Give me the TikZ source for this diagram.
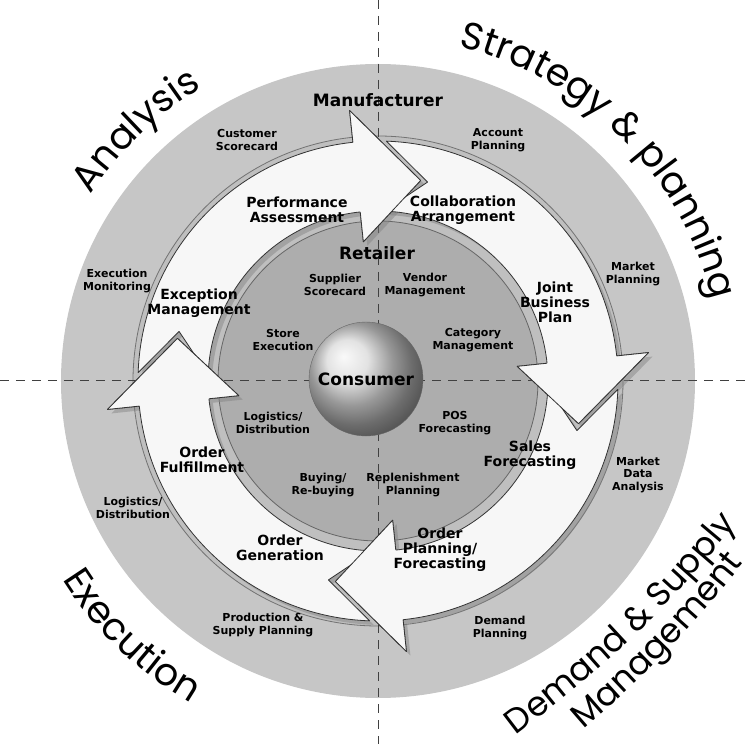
\documentclass[tikz,border=0pt]{standalone}
\usepackage{fontspec}
\setmainfont{DejaVu Sans}
\newfontfamily\cornerfont{Poppins}
\usepackage{tikz}
\usetikzlibrary{decorations.text,shadows}

% curved cycle arrow: tail angle, head base angle, tip angle
\newcommand{\cyclearrow}[3]{%
  \path[arrowbody] (#1:240pt) arc[start angle=#1, end angle=#2, radius=240pt]
    -- (#2:272pt) -- (#3:205pt) -- (#2:140pt) -- (#2:170pt)
    arc[start angle=#2, end angle=#1, radius=170pt] -- ({#1-12}:205pt) -- cycle;}
% head drawn again over the next tail
\newcommand{\cyclehead}[2]{%
  \fill[arrowfill] (#1:240pt) -- (#1:272pt) -- (#2:205pt) -- (#1:140pt) -- (#1:170pt) -- cycle;
  \draw[headline] (#1:240pt) -- (#1:272pt) -- (#2:205pt) -- (#1:140pt) -- (#1:170pt);}

\begin{document}
\begin{tikzpicture}[x=1pt,y=1pt,
  arrowfill/.style={fill=gray!6},
  headline/.style={draw=black!80,line width=0.8pt,line join=round},
  arrowbody/.style={arrowfill,headline,
    drop shadow={shadow xshift=4pt,shadow yshift=-4pt,opacity=0.45}},
  task/.style={font=\fontsize{14}{15}\selectfont\bfseries,align=center},
  small/.style={font=\fontsize{11}{12.5}\selectfont\bfseries,align=center},
  party/.style={font=\fontsize{17}{19}\selectfont\bfseries},
  corner/.style={decorate,decoration={text along path,text align=center,
    text={|\cornerfont\fontsize{38}{38}\selectfont|#1}}},
  lowcorner/.style={decorate,decoration={text along path,text align=center,
    text={|\cornerfont\fontsize{34}{34}\selectfont|#1}}}]
  \useasboundingbox (-378,-363) rectangle (369,381);

  % rings
  \fill[gray!45] (0,0) circle[radius=317pt];
  \fill[gray!50] (0,0) circle[radius=245pt];
  \draw[black!55,line width=0.8pt] (0,0) circle[radius=245pt];
  \fill[gray!64] (0,0) circle[radius=160pt];
  \draw[black!60,line width=0.8pt] (0,0) circle[radius=160pt];

  \coordinate (west) at (-378,1);
  \coordinate (east) at (369,1);
  \coordinate (north) at (0,381);
  \coordinate (south) at (0,-363);
  \draw[black!75,line width=0.9pt,dash pattern=on 9pt off 7pt]
    (west) -- (east) (north) -- (south);

  % the four cycle arrows
  \cyclearrow{178}{96}{78}
  \cyclearrow{88}{6}{-12}
  \cyclearrow{-2}{-84}{-102}
  \cyclearrow{-92}{-174}{-192}
  \cyclehead{96}{78}
  \cyclehead{6}{-12}
  \cyclehead{-84}{-102}
  \cyclehead{-174}{-192}

  \node[circle,minimum size=114pt,ball color=gray!30,draw=black!60,party] (consumer) at (-12,2) {Consumer};

  % manufacturer ring
  \node[party] (maker) at (0,281) {Manufacturer};
  \node[small] (custscore) at (-131,241) {Customer\\Scorecard};
  \node[small] (acctplan) at (120,241) {Account\\Planning};
  \node[small] (mktplan) at (255,107) {Market\\Planning};
  \node[small] (mktdata) at (260,-94) {Market\\Data\\Analysis};
  \node[small] (demplan) at (122,-247) {Demand\\Planning};
  \node[small] (prodplan) at (-115,-244) {Production \&\\Supply Planning};
  \node[small] (logout) at (-245,-127) {Logistics/\\Distribution};
  \node[small] (execmon) at (-261,100) {Execution\\Monitoring};

  % collaboration ring
  \node[task] (perf) at (-81,171) {Performance\\Assessment};
  \node[task] (collab) at (85,171) {Collaboration\\Arrangement};
  \node[task] (joint) at (177,79) {Joint\\Business\\Plan};
  \node[task] (sales) at (152,-74) {Sales\\Forecasting};
  \node[task] (orderplan) at (62,-169) {Order\\Planning/\\Forecasting};
  \node[task] (ordergen) at (-98,-167) {Order\\Generation};
  \node[task] (orderful) at (-176,-79) {Order\\Fulfillment};
  \node[task] (except) at (-179,78) {Exception\\Management};

  % retailer ring
  \node[party] (retailer) at (-1,128) {Retailer};
  \node[small] (supscore) at (-43,96) {Supplier\\Scorecard};
  \node[small] (vendor) at (47,96) {Vendor\\Management};
  \node[small] (category) at (95,41) {Category\\Management};
  \node[small] (pos) at (77,-42) {POS\\Forecasting};
  \node[small] (replen) at (35,-104) {Replenishment\\Planning};
  \node[small] (buying) at (-55,-104) {Buying/\\Re-buying};
  \node[small] (login) at (-105,-42) {Logistics/\\Distribution};
  \node[small] (store) at (-95,41) {Store\\Execution};

  % quadrant titles
  \path[corner=Analysis] (165:342pt) arc[start angle=165,end angle=103,radius=342pt];
  \path[corner=Strategy {\&} planning] (88:344pt) arc[start angle=88,end angle=2,radius=344pt];
  \path[corner=Execution] (196:373pt) arc[start angle=196,end angle=256,radius=373pt];
  \path[lowcorner=Demand {\&} Supply] (100,-382) to[bend right=8] (388,-106);
  \path[lowcorner=Management] (139,-402) to[bend right=8] (417,-114);
\end{tikzpicture}
\end{document}
